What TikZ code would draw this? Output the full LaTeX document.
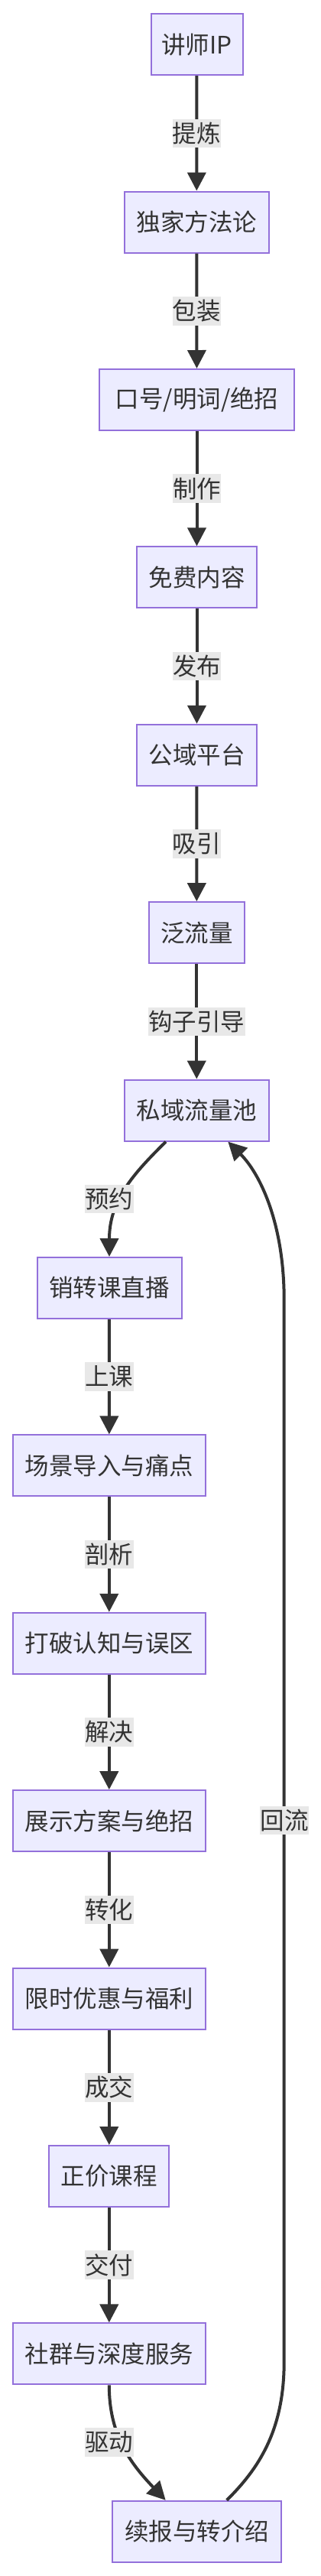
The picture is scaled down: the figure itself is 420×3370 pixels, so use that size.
\documentclass[tikz,border=0pt]{standalone}
\usepackage{fontspec}
\setmainfont{Noto Sans CJK SC}
\usetikzlibrary{arrows.meta}
\definecolor{nodefill}{HTML}{ECECFF}
\definecolor{nodeborder}{HTML}{9370DB}
\definecolor{edgecol}{HTML}{333333}
\definecolor{labelfill}{HTML}{E8E8E8}
\definecolor{textcol}{HTML}{333333}
\begin{document}
\begin{tikzpicture}[x=1pt,y=-1pt,
  box/.style={draw=nodeborder, fill=nodefill, line width=2pt, minimum height=80pt,
    inner sep=0pt, text=textcol, font=\fontsize{31.5}{37}\selectfont},
  lbl/.style={fill=labelfill, inner xsep=0.4pt, inner ysep=0pt, minimum height=37.5pt,
    text=textcol, font=\fontsize{31.5}{37}\selectfont},
  flow/.style={draw=edgecol, line width=4pt, -{Triangle[length=24pt,width=24pt]}}]
\useasboundingbox (0,0) rectangle (420,3370);

\node[box, minimum width=120pt] (A) at (257.5,58.2) {讲师IP};
\node[box, minimum width=189pt] (B) at (257.3,290.6) {独家方法论};
\node[box, minimum width=254.5pt] (C) at (257.5,523) {口号/明词/绝招};
\node[box, minimum width=157pt] (D) at (257.5,755.4) {免费内容};
\node[box, minimum width=157pt] (E) at (257.5,987.8) {公域平台};
\node[box, minimum width=125pt] (F) at (257.3,1220.2) {泛流量};
\node[box, minimum width=189pt] (G) at (257.3,1452.6) {私域流量池};
\node[box, minimum width=189pt] (H) at (143,1685) {销转课直播};
\node[box, minimum width=252.5pt] (I) at (142.8,1917.4) {场景导入与痛点};
\node[box, minimum width=252.5pt] (J) at (142.8,2149.8) {打破认知与误区};
\node[box, minimum width=252.5pt] (K) at (142.8,2382.2) {展示方案与绝招};
\node[box, minimum width=252.5pt] (L) at (142.8,2614.6) {限时优惠与福利};
\node[box, minimum width=157pt] (M) at (142.8,2847) {正价课程};
\node[box, minimum width=252.5pt] (N) at (142.8,3079.4) {社群与深度服务};
\node[box, minimum width=221pt] (O) at (257.5,3311.8) {续报与转介绍};

\draw[flow] (A) -- node[lbl] (lAB) {提炼} (B);
\draw[flow] (B) -- node[lbl] (lBC) {包装} (C);
\draw[flow] (C) -- node[lbl] (lCD) {制作} (D);
\draw[flow] (D) -- node[lbl] (lDE) {发布} (E);
\draw[flow] (E) -- node[lbl] (lEF) {吸引} (F);
\draw[flow] (F) -- node[lbl] (lFG) {钩子引导} (G);
\draw[flow] (H) -- node[lbl] (lHI) {上课} (I);
\draw[flow] (I) -- node[lbl] (lIJ) {剖析} (J);
\draw[flow] (J) -- node[lbl] (lJK) {解决} (K);
\draw[flow] (K) -- node[lbl] (lKL) {转化} (L);
\draw[flow] (L) -- node[lbl] (lLM) {成交} (M);
\draw[flow] (M) -- node[lbl] (lMN) {交付} (N);

\draw[flow] ([xshift=-40.3pt]G.south) .. controls (175,1535) and (143,1570) .. (H.north);
\node[lbl] (lGH) at (142.8,1568.4) {预约};

\draw[flow] (N.south) .. controls (142.8,3185) and (170,3222) .. ([xshift=-40.8pt]O.north);
\node[lbl] (lNO) at (142.8,3195) {驱动};

\draw[flow] ([xshift=39.2pt]O.north) .. controls (338,3230) and (371.7,3180) .. (371.7,3090)
  -- (371.7,1700) .. controls (371.7,1600) and (340,1535) .. ([xshift=41pt]G.south);
\node[lbl] (lOG) at (372,2381.6) {回流};
\end{tikzpicture}
\end{document}
